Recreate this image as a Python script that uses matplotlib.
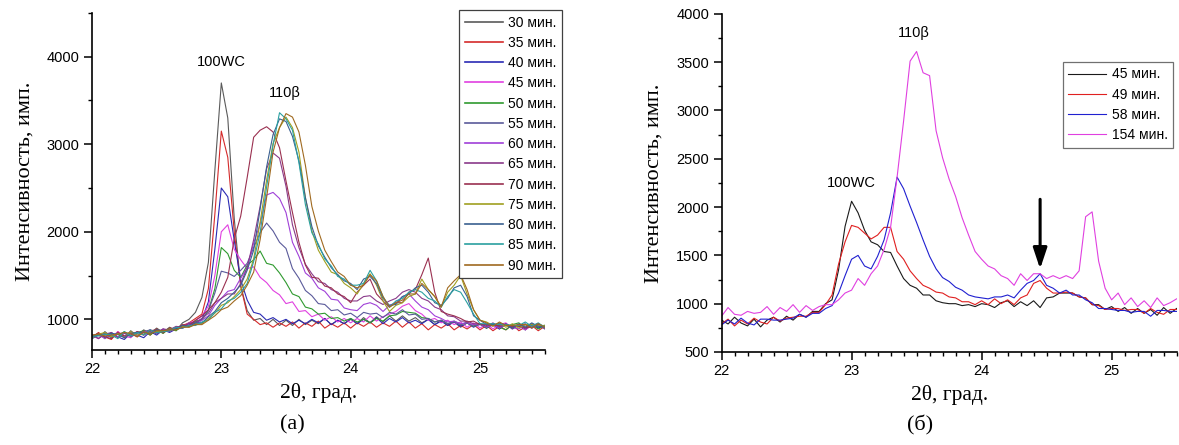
import numpy
import matplotlib
matplotlib.use("Agg")
import matplotlib.pyplot as plt
from matplotlib.ticker import MultipleLocator

# 2theta grid, 22.00 ... 25.50 step 0.05 (71 points)
two_theta = numpy.round(numpy.arange(22.0, 25.5001, 0.05), 2)

# ---- panel (a): intensities ----
left_labels = ["30 мин.", "35 мин.", "40 мин.", "45 мин.", "50 мин.", "55 мин.", "60 мин.",
               "65 мин.", "70 мин.", "75 мин.", "80 мин.", "85 мин.", "90 мин."]
left_colors = ["#5a5a5a", "#d42a2a", "#2a2ab4", "#e040e0", "#2f9a2f", "#5a5a9a", "#a040d8",
               "#8a3a8a", "#9a3050", "#a0a020", "#3a6090", "#2aa0a0", "#a06a20"]

s30 = [830, 780, 860, 800, 850, 790, 870, 810, 880, 840,
       900, 850, 910, 870, 960, 1000, 1080, 1250, 1650, 2700,
       3700, 3300, 2150, 1380, 1100, 990, 1010, 940, 1000, 930,
       990, 930, 1000, 940, 990, 950, 1010, 940, 990, 950,
       1000, 950, 1020, 960, 1030, 970, 1040, 980, 1040, 980,
       1020, 960, 1000, 940, 990, 930, 970, 910, 960, 920,
       950, 900, 940, 890, 950, 900, 940, 880, 950, 910, 930]
s35 = [790, 850, 800, 770, 860, 790, 840, 800, 870, 820,
       890, 840, 900, 880, 930, 960, 1010, 1060, 1350, 2200,
       3150, 2850, 2000, 1380, 1060, 1000, 940, 960, 910, 960,
       920, 970, 900, 960, 920, 980, 900, 950, 910, 960,
       900, 960, 920, 970, 910, 960, 920, 980, 910, 970,
       900, 950, 880, 940, 900, 950, 880, 930, 890, 940,
       880, 930, 870, 920, 880, 940, 870, 910, 930, 870, 920]
s40 = [780, 830, 790, 850, 800, 770, 840, 820, 790, 860,
       820, 880, 850, 890, 900, 950, 970, 1000, 1200, 1800,
       2500, 2400, 1900, 1450, 1220, 1080, 1060, 990, 1020, 970,
       1000, 950, 990, 950, 1000, 960, 1010, 940, 990, 950,
       1010, 950, 1000, 960, 1020, 950, 1010, 970, 1020, 960,
       990, 950, 1000, 940, 980, 930, 970, 920, 960, 910,
       950, 900, 940, 890, 950, 910, 930, 880, 940, 900, 930]
s45 = [820, 780, 840, 790, 860, 810, 790, 860, 820, 880,
       840, 890, 860, 910, 910, 960, 980, 1040, 1150, 1500,
       2000, 2080, 1800, 1680, 1580, 1600, 1480, 1420, 1330, 1280,
       1180, 1200, 1090, 1100, 1030, 1060, 990, 1030, 970, 1010,
       960, 1010, 970, 1040, 980, 1030, 1060, 1090, 1150, 1180,
       1100, 1060, 990, 1010, 960, 990, 940, 970, 910, 960,
       900, 950, 890, 940, 960, 890, 940, 880, 930, 950, 900]
s50 = [800, 840, 780, 830, 800, 860, 810, 850, 870, 820,
       880, 840, 900, 870, 930, 920, 980, 990, 1100, 1350,
       1820, 1750, 1560, 1480, 1620, 1680, 1780, 1640, 1620, 1530,
       1420, 1290, 1260, 1140, 1120, 1060, 1070, 1010, 1020, 980,
       1010, 970, 1000, 960, 1010, 980, 1040, 1050, 1090, 1080,
       1070, 1020, 1010, 970, 990, 950, 980, 940, 960, 920,
       950, 900, 950, 910, 880, 940, 960, 900, 940, 890, 930]
s55 = [780, 820, 840, 790, 830, 850, 800, 840, 860, 880,
       830, 890, 860, 910, 900, 950, 950, 1010, 1100, 1300,
       1550, 1530, 1490, 1560, 1640, 1820, 1990, 2100, 2010, 1880,
       1810, 1580, 1470, 1330, 1270, 1180, 1170, 1100, 1110, 1050,
       1070, 1020, 1080, 1060, 1070, 1020, 1080, 1060, 1110, 1050,
       1060, 1000, 1010, 970, 990, 950, 970, 940, 970, 920,
       940, 910, 950, 900, 940, 890, 930, 950, 900, 940, 890]
s60 = [810, 830, 780, 840, 800, 810, 850, 810, 860, 850,
       860, 880, 870, 910, 900, 940, 940, 990, 1040, 1160,
       1240, 1320, 1340, 1470, 1590, 1870, 2090, 2420, 2450, 2380,
       2220, 1880, 1720, 1530, 1470, 1360, 1320, 1230, 1220, 1130,
       1110, 1100, 1170, 1190, 1160, 1090, 1160, 1190, 1260, 1290,
       1210, 1140, 1110, 1040, 1010, 970, 980, 950, 960, 940,
       950, 910, 940, 900, 950, 910, 890, 940, 900, 950, 910]
s65 = [820, 780, 830, 850, 790, 840, 810, 860, 830, 880,
       850, 890, 880, 920, 910, 960, 960, 1010, 1070, 1190,
       1240, 1290, 1290, 1410, 1590, 1910, 2290, 2720, 2900, 2840,
       2520, 2080, 1820, 1630, 1520, 1430, 1410, 1340, 1310, 1240,
       1210, 1210, 1260, 1270, 1210, 1170, 1210, 1240, 1310, 1340,
       1310, 1240, 1210, 1140, 1110, 1040, 1030, 980, 980, 950,
       950, 920, 960, 910, 950, 900, 940, 890, 930, 950, 900]
s70 = [810, 840, 800, 780, 850, 810, 820, 860, 820, 870,
       880, 850, 900, 890, 940, 930, 990, 1040, 1110, 1190,
       1310, 1480, 1920, 2180, 2620, 3080, 3160, 3200, 3140, 2960,
       2580, 2220, 1880, 1620, 1480, 1470, 1380, 1360, 1290, 1260,
       1190, 1310, 1390, 1460, 1290, 1210, 1140, 1190, 1190, 1310,
       1340, 1510, 1700, 1310, 1090, 1060, 1040, 1010, 970, 980,
       940, 940, 930, 930, 940, 920, 920, 910, 910, 950, 910]
s75 = [790, 830, 850, 800, 840, 790, 860, 820, 830, 850,
       860, 860, 890, 880, 920, 910, 950, 950, 1010, 1070,
       1160, 1190, 1260, 1340, 1460, 1690, 2110, 2590, 3010, 3190,
       3310, 3190, 2910, 2390, 2010, 1790, 1660, 1540, 1510, 1410,
       1360, 1290, 1410, 1520, 1390, 1210, 1090, 1160, 1190, 1260,
       1290, 1460, 1340, 1260, 1140, 1310, 1390, 1500, 1290, 1110,
       990, 970, 930, 960, 910, 950, 900, 940, 940, 930, 930]
s80 = [800, 820, 820, 840, 830, 790, 840, 850, 850, 840,
       880, 870, 880, 890, 930, 920, 960, 960, 1030, 1090,
       1190, 1240, 1310, 1390, 1560, 1790, 2260, 2740, 3110, 3290,
       3260, 3090, 2810, 2390, 2060, 1840, 1710, 1590, 1510, 1440,
       1410, 1340, 1460, 1490, 1410, 1240, 1160, 1170, 1260, 1290,
       1360, 1390, 1310, 1190, 1160, 1240, 1360, 1390, 1260, 1040,
       990, 940, 940, 950, 940, 900, 950, 910, 960, 920, 920]
s85 = [810, 810, 830, 820, 780, 860, 810, 850, 820, 880,
       850, 860, 870, 910, 900, 930, 930, 970, 990, 1080,
       1120, 1210, 1240, 1310, 1410, 1660, 1990, 2510, 2990, 3360,
       3290, 3160, 2790, 2310, 1990, 1860, 1690, 1610, 1490, 1460,
       1390, 1390, 1410, 1560, 1440, 1260, 1140, 1210, 1240, 1310,
       1340, 1310, 1240, 1210, 1140, 1260, 1340, 1310, 1190, 1060,
       950, 950, 950, 940, 940, 930, 930, 970, 920, 960, 910]
s90 = [820, 830, 810, 820, 830, 850, 840, 800, 860, 830,
       870, 870, 880, 880, 910, 910, 940, 940, 990, 1040,
       1110, 1140, 1210, 1270, 1390, 1540, 1910, 2390, 2910, 3190,
       3350, 3310, 3140, 2760, 2290, 2010, 1790, 1660, 1540, 1490,
       1390, 1360, 1390, 1510, 1440, 1260, 1140, 1190, 1220, 1290,
       1290, 1410, 1340, 1260, 1140, 1360, 1440, 1510, 1340, 1110,
       990, 960, 920, 970, 930, 930, 940, 940, 900, 950, 910]
left_series = [s30, s35, s40, s45, s50, s55, s60, s65, s70, s75, s80, s85, s90]

# ---- panel (b) ----
right_labels = ["45 мин.", "49 мин.", "58 мин.", "154 мин."]
right_colors = ["#1a1a1a", "#e02020", "#2020d0", "#e040e0"]

r45 = [830, 790, 860, 800, 770, 840, 760, 830, 860, 810,
       870, 830, 890, 860, 920, 920, 1000, 1040, 1350, 1800,
       2060, 1940, 1760, 1640, 1610, 1540, 1530, 1390, 1260, 1190,
       1160, 1090, 1090, 1030, 1010, 1000, 1000, 980, 990, 970,
       1000, 990, 960, 1010, 1030, 970, 1020, 980, 1030, 960,
       1060, 1070, 1110, 1110, 1110, 1070, 1060, 990, 990, 940,
       970, 920, 960, 900, 950, 900, 940, 880, 960, 900, 950]
r49 = [790, 840, 770, 830, 790, 850, 810, 790, 860, 820,
       850, 860, 870, 870, 910, 910, 990, 1090, 1410, 1640,
       1810, 1790, 1730, 1670, 1710, 1790, 1790, 1540, 1460, 1340,
       1260, 1190, 1160, 1120, 1110, 1070, 1060, 1020, 1020, 990,
       1030, 990, 1050, 1000, 1040, 990, 1060, 1090, 1210, 1240,
       1160, 1110, 1110, 1120, 1110, 1070, 1060, 990, 980, 940,
       950, 950, 930, 940, 940, 900, 950, 910, 890, 940, 940]
r58 = [780, 830, 790, 850, 800, 780, 840, 840, 830, 830,
       840, 850, 890, 860, 900, 900, 950, 980, 1110, 1290,
       1460, 1500, 1390, 1360, 1490, 1660, 1940, 2310, 2190, 2010,
       1840, 1660, 1490, 1360, 1270, 1230, 1170, 1140, 1090, 1070,
       1060, 1050, 1070, 1070, 1090, 1060, 1140, 1210, 1240, 1310,
       1190, 1160, 1110, 1140, 1090, 1090, 1040, 1010, 950, 950,
       940, 930, 930, 910, 920, 920, 870, 930, 930, 920, 920]
r154 = [870, 960, 890, 880, 920, 900, 910, 970, 890, 960,
        920, 990, 910, 980, 930, 970, 990, 990, 1040, 1110,
        1140, 1260, 1190, 1310, 1390, 1560, 1790, 2310, 2890, 3510,
        3610, 3390, 3360, 2790, 2510, 2290, 2110, 1890, 1710, 1540,
        1460, 1390, 1360, 1290, 1260, 1190, 1310, 1240, 1310, 1310,
        1260, 1290, 1260, 1290, 1260, 1340, 1900, 1950, 1440, 1160,
        1040, 1110, 990, 1060, 970, 1030, 960, 1060, 980, 1010, 1050]
right_series = [r45, r49, r58, r154]

sans = "Liberation Sans"
serif = "Liberation Serif"
plt.rcParams["font.family"] = sans

fig = plt.figure(figsize=(11.79, 4.45), dpi=100)
axL = fig.add_axes([0.078, 0.2135, 0.384, 0.7575])
axR = fig.add_axes([0.612, 0.209, 0.386, 0.760])


def style_axis(ax):
    for side in ["top", "right"]:
        ax.spines[side].set_visible(False)
    for side in ["left", "bottom"]:
        ax.spines[side].set_linewidth(1.2)
    ax.tick_params(which="major", direction="out", length=6, width=1.1, labelsize=10.5, pad=3)
    ax.tick_params(which="minor", direction="out", length=3, width=1.0)
    ax.xaxis.set_major_locator(MultipleLocator(1))
    ax.xaxis.set_minor_locator(MultipleLocator(0.1))
    ax.set_xlim(22, 25.5)
    ax.set_xlabel("2θ, град.", fontfamily=serif, fontsize=15.5, labelpad=5)
    ax.set_ylabel("Интенсивность, имп.", fontfamily=serif, fontsize=16, labelpad=9)


for vals, lab, col in zip(left_series, left_labels, left_colors):
    axL.plot(two_theta, vals, color=col, lw=0.8, label=lab)
style_axis(axL)
axL.set_ylim(650, 4500)
axL.yaxis.set_major_locator(MultipleLocator(1000))
axL.yaxis.set_minor_locator(MultipleLocator(500))
axL.text(23.0, 3940, "100WC", ha="center", va="center", fontsize=10.5)
axL.text(23.49, 3590, "110β", ha="center", va="center", fontsize=10.5)
legL = axL.legend(loc="upper right", bbox_to_anchor=(0.4767, 0.9775), bbox_transform=fig.transFigure,
                  fontsize=10, frameon=True, fancybox=False, edgecolor="#404040", framealpha=1,
                  handlelength=2.7, handletextpad=0.4, labelspacing=0.45, borderpad=0.4, borderaxespad=0)
legL.get_frame().set_linewidth(0.9)
for line in legL.get_lines():
    line.set_linewidth(1.2)

for vals, lab, col in zip(right_series, right_labels, right_colors):
    axR.plot(two_theta, vals, color=col, lw=0.8, label=lab)
style_axis(axR)
axR.set_ylim(500, 4000)
axR.yaxis.set_major_locator(MultipleLocator(500))
axR.yaxis.set_minor_locator(MultipleLocator(250))
axR.text(23.0, 2250, "100WC", ha="center", va="center", fontsize=10.5)
axR.text(23.48, 3800, "110β", ha="center", va="center", fontsize=10.5)
axR.annotate("", xy=(24.45, 1360), xytext=(24.45, 2080),
             arrowprops=dict(arrowstyle="-|>,head_length=0.9,head_width=0.3", lw=2.2, color="black",
                             shrinkA=0, shrinkB=0, mutation_scale=14))
legR = axR.legend(loc="upper right", bbox_to_anchor=(0.995, 0.861), bbox_transform=fig.transFigure,
                  fontsize=10, frameon=True, fancybox=False, edgecolor="#707070", framealpha=1,
                  handlelength=2.7, handletextpad=0.4, labelspacing=0.45, borderpad=0.4, borderaxespad=0)
legR.get_frame().set_linewidth(0.9)

fig.text(292 / 1179, 1 - 425 / 445, "(a)", ha="center", va="center", fontfamily=serif, fontsize=16)
fig.text(920 / 1179, 1 - 425 / 445, "(б)", ha="center", va="center", fontfamily=serif, fontsize=16)

fig.savefig("out.png", dpi=100)
